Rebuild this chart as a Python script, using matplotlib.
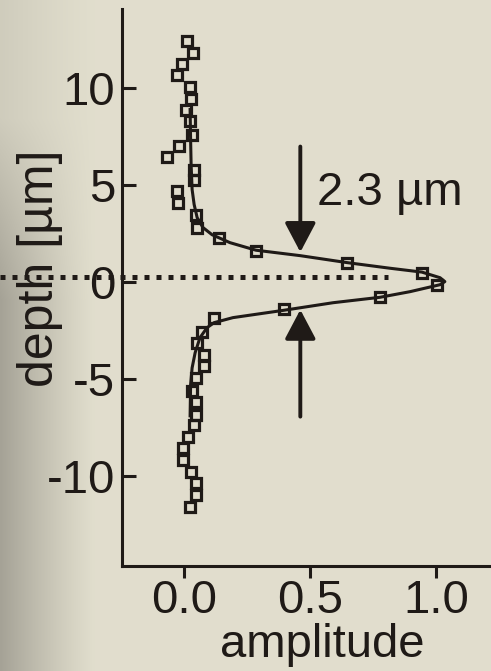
import numpy as np
import matplotlib
matplotlib.use("Agg")
import matplotlib.pyplot as plt

plt.rcParams['font.family'] = ['Liberation Sans', 'DejaVu Sans']

# measured points (amplitude vs depth in um)
amp_pts = [0.010, 0.036, -0.008, -0.028, 0.022, 0.027, 0.007, 0.023, 0.031, -0.020,
           -0.067, 0.040, 0.040, -0.026, -0.023, 0.046, 0.052, 0.138, 0.284, 0.645,
           0.942, 1.004, 0.777, 0.395, 0.118, 0.071, 0.052, 0.078, 0.078, 0.048,
           0.032, 0.047, 0.048, 0.039, 0.014, -0.003, -0.005, 0.027, 0.047, 0.047, 0.025]
depth_pts = [12.44, 11.85, 11.26, 10.67, 10.05, 9.45, 8.88, 8.31, 7.62, 7.05,
             6.47, 5.81, 5.25, 4.69, 4.11, 3.46, 2.80, 2.26, 1.59, 0.99,
             0.48, -0.14, -0.76, -1.39, -1.86, -2.57, -3.14, -3.75, -4.32, -4.95,
             -5.61, -6.19, -6.85, -7.38, -7.97, -8.57, -9.17, -9.80, -10.36, -10.96, -11.60]

# fitted curve
fit_amp = [0.024, 0.026, 0.028, 0.032, 0.040, 0.052, 0.075, 0.111, 0.182, 0.285,
           0.460, 0.646, 0.816, 0.943, 1.015, 1.034,
           1.015, 0.896, 0.777, 0.591, 0.396, 0.194, 0.119, 0.091, 0.063, 0.044,
           0.032, 0.026, 0.024]
fit_depth = [8.91, 7.36, 6.07, 4.78, 4.01, 3.33, 2.82, 2.45, 2.04, 1.65,
             1.37, 1.01, 0.72, 0.52, 0.23, 0.03,
             -0.13, -0.49, -0.78, -1.06, -1.45, -1.83, -2.09, -2.35, -2.87, -3.64,
             -4.42, -5.30, -6.90]

yticks = [10, 5, 0, -5, -10]
ytick_labels = ['10', '5', '0', '-5', '-10']
xticks = [0.0, 0.5, 1.0]
xtick_labels = ['0.0', '0.5', '1.0']

ink = '#1f1a17'
bg = np.array([225, 222, 205]) / 255.0
shade = np.array([165, 162, 150]) / 255.0

W, H = 491, 671
fig = plt.figure(figsize=(W / 100, H / 100), dpi=100)

# background with grey shadow on the left
bgax = fig.add_axes([0, 0, 1, 1], zorder=-10)
xx = np.arange(W)[None, :]
yy = np.arange(H)[:, None]
t = np.clip(1 - xx / 95.0, 0, 1) ** 1.2
v = np.clip((yy - 40) / 260.0, 0.3, 1.0)
k = (t * v)[:, :, None]
img = bg * (1 - k) + shade * k
bgax.imshow(img, aspect='auto', extent=(0, 1, 0, 1))
bgax.axis('off')

ax = fig.add_axes([122 / W, 105 / H, 1 - 122 / W, (566 - 9) / H])
ax.patch.set_visible(False)
ax.set_xlim(-0.246, 1.217)
ax.set_ylim(-14.65, 14.1)

ax.plot(fit_amp, fit_depth, color=ink, lw=2.2, zorder=2)
ax.plot(amp_pts, depth_pts, 's', ms=7.8, mfc='none', mec=ink, mew=2.3, zorder=3)

# dotted reference line at the peak depth
ax.plot([-0.73, 0.81], [0.28, 0.28], color=ink, lw=3.6, dashes=(1, 1.4),
        clip_on=False, zorder=4)

# arrows marking the width
arrow = dict(arrowstyle='-|>,head_length=1.8,head_width=0.95', lw=2.8,
             color=ink, shrinkA=0, shrinkB=0, mutation_scale=10)
ax.annotate('', xy=(0.461, 1.55), xytext=(0.461, 7.0), arrowprops=arrow)
ax.annotate('', xy=(0.461, -1.42), xytext=(0.461, -6.94), arrowprops=arrow)
ax.text(0.526, 4.0, '2.3 µm', fontsize=34, color=ink, ha='left', va='baseline')

for s in ['top', 'right']:
    ax.spines[s].set_visible(False)
for s in ['left', 'bottom']:
    ax.spines[s].set_linewidth(2.2)
    ax.spines[s].set_color(ink)

ax.set_yticks(yticks)
ax.set_yticklabels(ytick_labels)
ax.set_xticks(xticks)
ax.set_xticklabels(xtick_labels)
ax.tick_params(axis='y', direction='in', length=10, width=2.2, pad=5,
               labelsize=34, colors=ink)
ax.tick_params(axis='x', direction='out', length=8.5, width=2.2, pad=1,
               labelsize=34, colors=ink)

fig.text(40 / W, 1 - 268 / H, 'depth [µm]', rotation=90, fontsize=36,
         color=ink, ha='center', va='center')
fig.text(322 / W, 1 - 657 / H, 'amplitude', fontsize=34, color=ink,
         ha='center', va='baseline')

fig.savefig('out.png', dpi=100)
